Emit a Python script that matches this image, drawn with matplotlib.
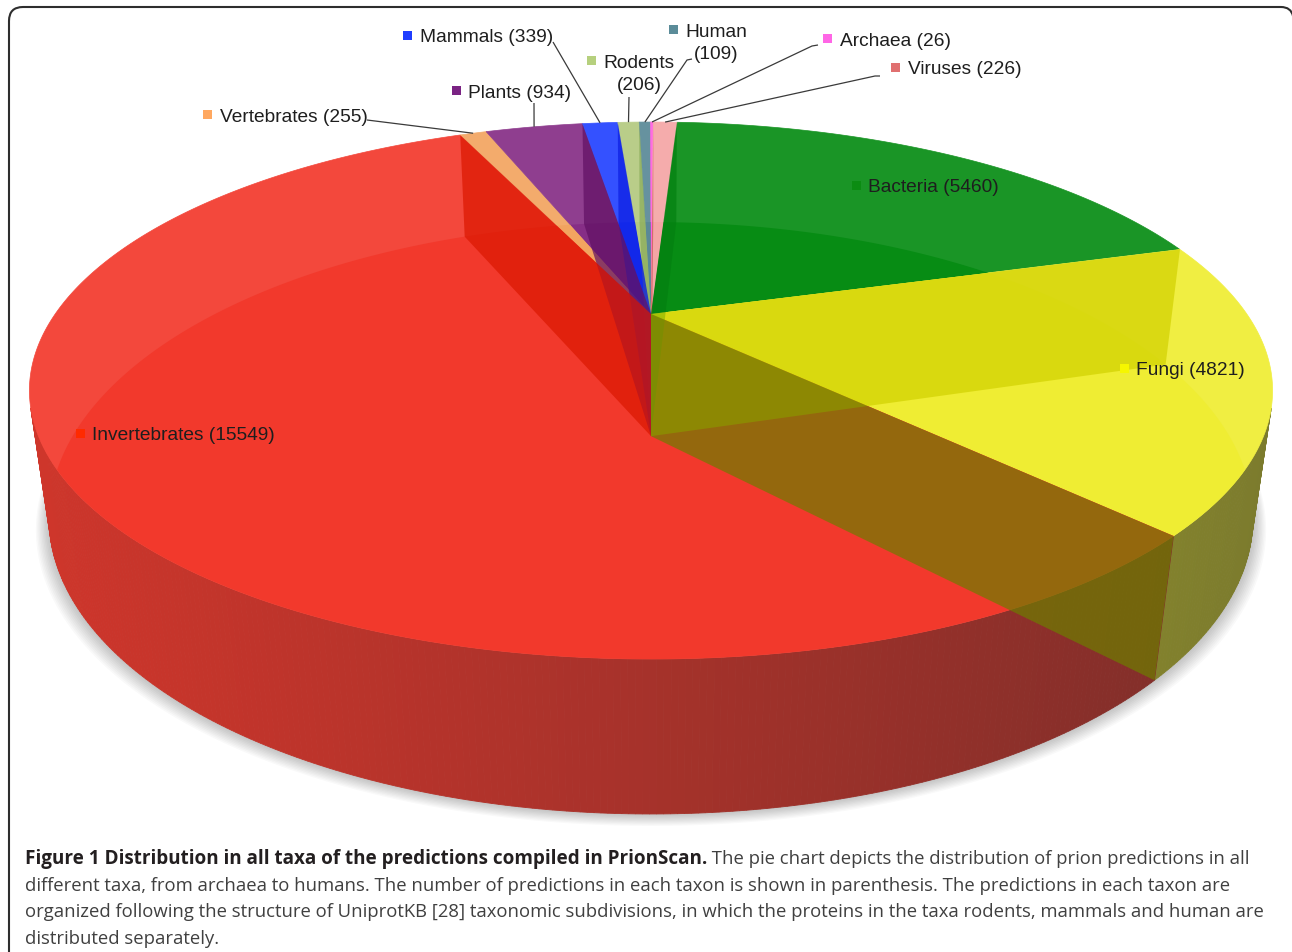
import numpy as np
import matplotlib
matplotlib.use('Agg')
from matplotlib import pyplot as plt
from matplotlib.patches import Polygon, Rectangle, PathPatch
from matplotlib.path import Path
from matplotlib import font_manager

# data, clockwise from the back of the pie
taxa = ['Bacteria', 'Fungi', 'Invertebrates', 'Vertebrates', 'Plants',
        'Mammals', 'Rodents', 'Human', 'Archaea', 'Viruses']
counts = [5460, 4821, 15549, 255, 934, 339, 206, 109, 26, 226]

top_colors = ['#078c14', '#efed33', '#f2392c', '#f2a460', '#862e86',
              '#2443ff', '#b3c97f', '#5a8997', '#ff5fe0', '#f4a5a5']
marker_colors = ['#0b8c12', '#f6f600', '#ff2a00', '#ffa860', '#7a2383',
                 '#1f3dff', '#b6d07e', '#5b8c99', '#ff66e6', '#e07070']
# colour of the cut face at the start of each slice, seen through the top
wall_colors = ['#038010', '#d1d100', '#6d7d00', '#db1700', 'none',
               '#601063', '#0b1de2', '#89ab59', '#467382', '#ca5454']

# label layout: marker left x, text centre y, leader start points
label_pos = [(852, 187), (1120, 370), (76, 435), (203, 116), (452, 92),
             (403, 37), (587, 62), (669, 31), (823, 40), (891, 69)]
two_line = ['Rodents', 'Human']
leaders = {'Vertebrates': [(367, 121)],
           'Plants': [(534, 104)],
           'Mammals': [(553, 43)],
           'Rodents': [(629, 98)],
           'Human': [(692, 60), (687, 61)],
           'Archaea': [(818, 46), (812, 47)],
           'Viruses': [(880, 77), (875, 77)]}

caption_bold = 'Figure 1 Distribution in all taxa of the predictions compiled in PrionScan.'
caption_lines = [' The pie chart depicts the distribution of prion predictions in all',
                 'different taxa, from archaea to humans. The number of predictions in each taxon is shown in parenthesis. The predictions in each taxon are',
                 'organized following the structure of UniprotKB [28] taxonomic subdivisions, in which the proteins in the taxa rodents, mammals and human are',
                 'distributed separately.']

# camera for the perspective pie (pixel space)
CX, CY = 651., 315.
ELEV = np.radians(24.46)
DIST = 3.194
FOC = 1903.
THICK = 0.232
START = 3.2


def proj(theta, z=0., r=1.):
  th = np.radians(np.asarray(theta, dtype=float))
  x = r*np.sin(th)
  y = r*np.cos(th)
  c, s = np.cos(ELEV), np.sin(ELEV)
  vy = y + DIST*c
  vz = z - DIST*s
  zc = vy*c - vz*s
  yc = vy*s + vz*c
  return CX + FOC*x/zc, CY - FOC*yc/zc


def rgb(h):
  return np.array(matplotlib.colors.to_rgb(h))


def side_shade(col, x):
  a = np.clip(0.83 - 0.36*(x - 30)/1100., 0.4, 0.85)
  return a*rgb(col) + (1 - a)*np.array([38, 38, 40])/255.


fig = plt.figure(figsize=(12.92, 9.53), dpi=100)
ax = fig.add_axes([0, 0, 1, 1])
ax.set_xlim(0, 1292)
ax.set_ylim(953, 0)
ax.axis('off')

total = float(sum(counts))
spans = np.array([360.*v/total for v in counts])
starts = START + np.concatenate([[0], np.cumsum(spans)[:-1]])
ends = starts + spans
mids = starts + spans/2

# soft shadow under the pie
full = np.linspace(0, 360, 361)
bx, by = proj(full, -THICK)
for k in range(1, 11):
  xs = CX + (bx - CX)*(1 + 0.0022*k)
  ys = by + 1.2*k
  ax.add_patch(Polygon(np.c_[xs, ys], closed=True, fc='k', ec='none', alpha=0.025, zorder=0.5))

# outer side, only the part facing the viewer
sil = np.degrees(np.arccos(-1./(DIST*np.cos(ELEV))))
for i in range(len(taxa)):
  a0 = max(starts[i], sil)
  a1 = min(ends[i], 360 - sil)
  if a1 <= a0:
    continue
  ths = np.linspace(a0, a1, int((a1 - a0)/0.5) + 2)
  for t0, t1 in zip(ths[:-1], ths[1:]):
    p = [proj(t0, 0), proj(t1, 0), proj(t1, -THICK), proj(t0, -THICK)]
    xm = np.mean([q[0] for q in p])
    col = side_shade(top_colors[i], xm)
    ax.add_patch(Polygon(p, closed=True, fc=col, ec=col, lw=0.6, zorder=2))

# top faces: lighter ring near the rim, bottom ellipse area in the base colour
inner_verts = np.c_[bx, by]
cen = proj(0, 0, 0)
for i in range(len(taxa)):
  th = np.linspace(starts[i], ends[i], max(3, int(spans[i]*2)))
  xs, ys = proj(th, 0)
  verts = [cen] + list(zip(xs, ys))
  base = rgb(top_colors[i])
  light = base + 0.075*(1 - base)
  wedge = Polygon(verts, closed=True, fc=light, ec=light, lw=0.5, zorder=3)
  ax.add_patch(wedge)
  inner = Polygon(inner_verts, closed=True, fc=base, ec='none', zorder=3.1)
  ax.add_patch(inner)
  inner.set_clip_path(wedge)

# cut faces seen through the translucent pie, nearest to the back drawn first
wall_ang = (starts + 180) % 360 - 180
for i in np.argsort(np.abs(wall_ang)):
  if wall_colors[i] == 'none':
    continue
  th = starts[i]
  verts = [proj(th, 0, 0), proj(th, 0, 1), proj(th, -THICK, 1), proj(th, -THICK, 0)]
  ax.add_patch(Polygon(verts, closed=True, fc=wall_colors[i], ec='none', alpha=0.7, zorder=4))

# labels and leader lines
lab_font = ['Liberation Sans', 'DejaVu Sans']
for i, name in enumerate(taxa):
  mx, my = label_pos[i]
  if name in two_line:
    txt = '%s\n(%d)' % (name, counts[i])
    ax.text(mx + 16.5, my + 12.5, txt, ha='left', va='center', multialignment='center',
            fontsize=13.8, family=lab_font, color='#1e1e1e', linespacing=1.4, zorder=6)
  else:
    txt = '%s (%d)' % (name, counts[i])
    ax.text(mx + 16.5, my + 1, txt, ha='left', va='center', fontsize=13.8,
            family=lab_font, color='#1e1e1e', zorder=6)
  ax.add_patch(Rectangle((mx, my - 5), 9, 9, fc=marker_colors[i], ec='none', zorder=6))
  if name in leaders:
    pts = list(leaders[name]) + [proj(mids[i], 0)]
    ax.plot([p[0] for p in pts], [p[1] for p in pts], color='#3a3a3a', lw=0.9,
            solid_capstyle='butt', zorder=5)

# caption
names = set(f.name for f in font_manager.fontManager.ttflist)
cap_font = 'DejaVu Sans'
for f in ['Liberation Sans Narrow', 'Open Sans', 'Noto Sans']:
  if f in names:
    cap_font = f
    break

renderer = fig.canvas.get_renderer()


def text_width(s, size, weight):
  t = ax.text(0, 0, s, fontsize=size, family=cap_font, weight=weight)
  w = t.get_window_extent(renderer).width
  t.remove()
  return w


bold_size = 10*682./text_width(caption_bold, 10, 'bold')
reg_size = 10*1237./text_width(caption_lines[2], 10, 'normal')
line_y = [859, 886, 912, 939]
ax.text(25, line_y[0], caption_bold, fontsize=bold_size, family=cap_font,
        weight='bold', color='#231f20', ha='left', va='center')
bold_w = text_width(caption_bold, bold_size, 'bold')
ax.text(25 + bold_w, line_y[0], caption_lines[0], fontsize=reg_size, family=cap_font,
        color='#404040', ha='left', va='center')
for s, y in zip(caption_lines[1:], line_y[1:]):
  ax.text(25, y, s, fontsize=reg_size, family=cap_font, color='#404040',
          ha='left', va='center')

# rounded frame
fv = [(9, 953), (9, 22), (9, 8), (23, 8), (1281, 8), (1291, 8), (1293, 17)]
fc = [Path.MOVETO, Path.LINETO, Path.CURVE3, Path.CURVE3, Path.LINETO, Path.CURVE3, Path.CURVE3]
ax.add_patch(PathPatch(Path(fv, fc), fc='none', ec='#2e2e2e', lw=1.5, zorder=7))

fig.savefig('out.png', dpi=100)
